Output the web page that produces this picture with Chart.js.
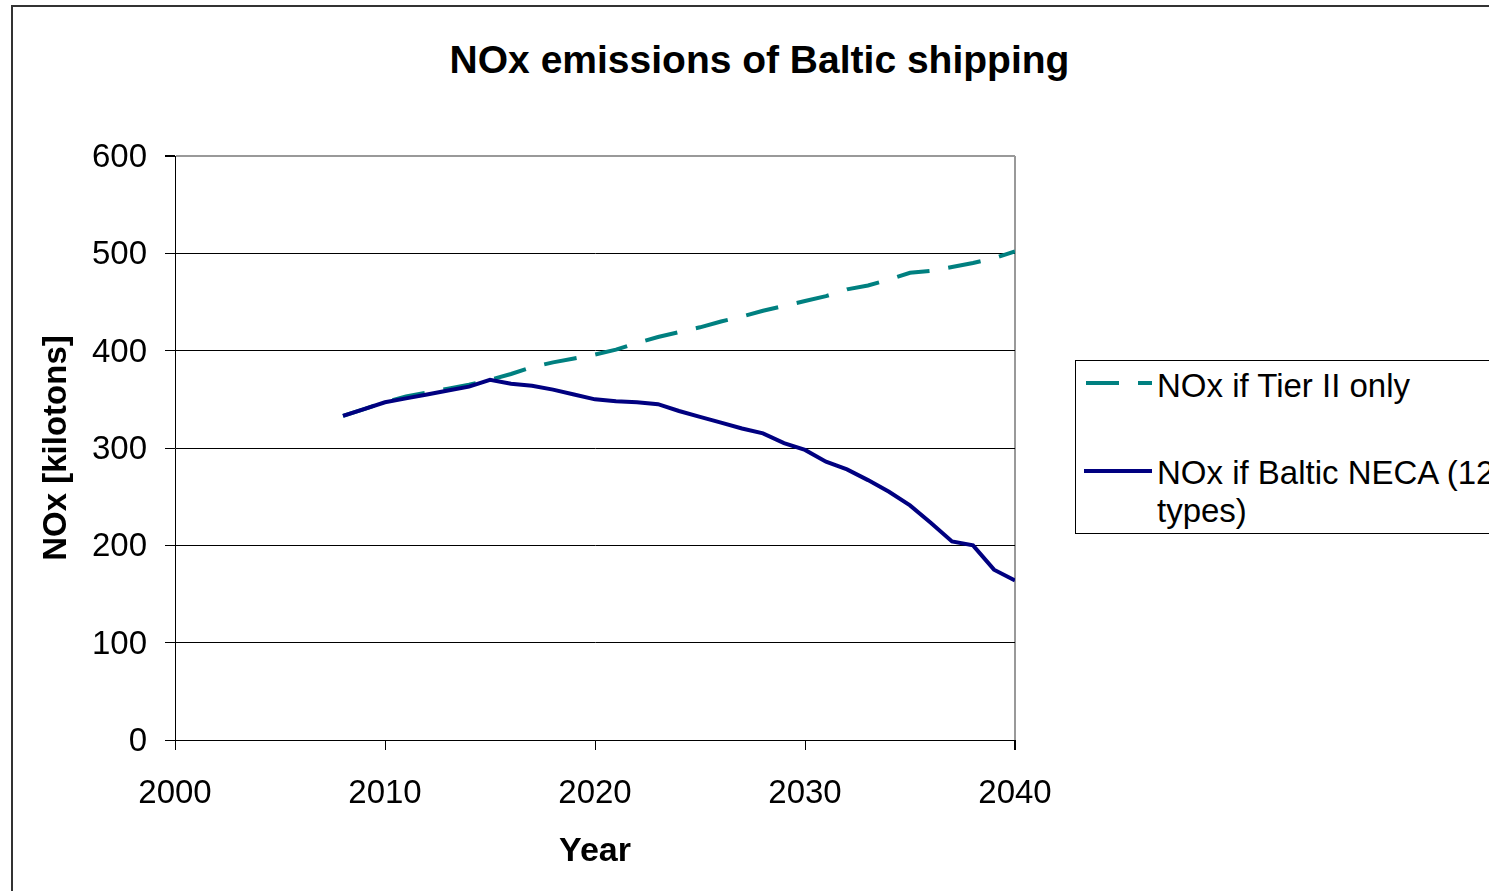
<!DOCTYPE html>
<html>
<head>
<meta charset="utf-8">
<script src="https://cdn.jsdelivr.net/npm/chart.js@4"></script>
<style>
  body { margin: 0; width: 1489px; height: 891px; overflow: hidden; background: #fff; font-family: "Liberation Sans", Arial, sans-serif; }
  #frame { position: absolute; left: 11px; top: 5px; width: 1600px; height: 1000px; border-left: 2px solid #333; border-top: 2px solid #333; }
  #title { position: absolute; left: 0; top: 40px; width: 1519px; text-align: center; font-weight: bold; font-size: 39px; line-height: 40px; color: #000; }
  #chart { position: absolute; left: 0; top: 0; }
  #legend { position: absolute; left: 1075px; top: 360px; width: 500px; height: 172px; border: 1px solid #000; background: #fff; }
  .lbl { position: absolute; left: 81px; font-size: 33px; line-height: 38px; color: #000; white-space: nowrap; }
  .sample { position: absolute; left: 8px; }
</style>
</head>
<body>
<div id="frame"></div>
<div id="title">NOx emissions of Baltic shipping</div>
<canvas id="chart" width="1489" height="891"></canvas>
<div id="legend">
  <svg class="sample" style="top:17px" width="68" height="10">
    <line x1="2" y1="5" x2="68" y2="5" stroke="#008080" stroke-width="4" stroke-dasharray="33,19"></line>
  </svg>
  <div class="lbl" style="top:6px">NOx if Tier II only</div>
  <svg class="sample" style="top:105px" width="68" height="10">
    <line x1="0" y1="5" x2="68" y2="5" stroke="#000080" stroke-width="4"></line>
  </svg>
  <div class="lbl" style="top:93px">NOx if Baltic NECA (12<br>types)</div>
</div>
<script>
var years = [2008, 2009, 2010, 2011, 2012, 2013, 2014, 2015, 2016, 2017, 2018, 2019, 2020,
  2021, 2022, 2023, 2024, 2025, 2026, 2027, 2028, 2029, 2030, 2031, 2032, 2033, 2034,
  2035, 2036, 2037, 2038, 2039, 2040];

var tierII = [333, 340, 347, 353, 357, 361, 365, 370, 376, 383, 388, 392, 396,
  401, 408, 414, 419, 424, 430, 435, 441, 446, 451, 456, 463, 467, 473,
  480, 482, 486, 490, 495, 502];

var neca = [333, 340, 347, 351, 355, 359, 363, 370, 366, 364, 360, 355, 350,
  348, 347, 345, 338, 332, 326, 320, 315, 305, 298, 286, 278, 267, 255,
  241, 223, 204, 200, 175, 164];

var xTicks = [2000, 2010, 2020, 2030, 2040];
var yTicks = [0, 100, 200, 300, 400, 500, 600];

function toPoints(values){
  return values.map(function(v, i){ return {x: years[i], y: v}; });
}

var tickFont = {family: "'Liberation Sans', Arial, sans-serif", size: 33};
var xTitleFont = {family: "'Liberation Sans', Arial, sans-serif", size: 34, weight: 'bold'};
var yTitleFont = {family: "'Liberation Sans', Arial, sans-serif", size: 33, weight: 'bold'};

var ctx = document.getElementById('chart').getContext('2d');
var myChart = new Chart(ctx, {
  type: 'line',
  data: {
    datasets: [
      {
        label: 'NOx if Tier II only',
        data: toPoints(tierII),
        borderColor: '#008080',
        borderWidth: 4,
        borderDash: [33, 19],
        pointRadius: 0,
        tension: 0,
        order: 1
      },
      {
        label: 'NOx if Baltic NECA (12 types)',
        data: toPoints(neca),
        borderColor: '#000080',
        borderWidth: 4,
        pointRadius: 0,
        tension: 0,
        order: 0
      }
    ]
  },
  options: {
    responsive: false,
    animation: false,
    layout: {padding: {left: 29, top: 156, right: 474, bottom: 0}},
    plugins: {
      legend: {display: false},
      tooltip: {enabled: false}
    },
    scales: {
      x: {
        type: 'linear',
        min: xTicks[0],
        max: xTicks[xTicks.length - 1],
        afterBuildTicks: function(scale){
          scale.ticks = xTicks.map(function(v){ return {value: v}; });
        },
        afterFit: function(scale){ scale.height = 151; },
        ticks: {
          font: tickFont,
          color: '#000',
          padding: 24,
          maxRotation: 0,
          callback: function(v){ return String(v); }
        },
        grid: {
          tickLength: 10,
          tickColor: '#000',
          color: function(c){ return c.tick && c.tick.value === 2040 ? '#999' : 'rgba(0,0,0,0)'; },
          lineWidth: function(c){ return c.tick && c.tick.value === 2040 ? 2 : 1; }
        },
        border: {color: '#000', width: 1},
        title: {
          display: true,
          text: 'Year',
          font: xTitleFont,
          color: '#000',
          padding: {top: 0, bottom: 19}
        }
      },
      y: {
        min: yTicks[0],
        max: yTicks[yTicks.length - 1],
        afterBuildTicks: function(scale){
          scale.ticks = yTicks.map(function(v){ return {value: v}; });
        },
        afterFit: function(scale){ scale.width = 146; },
        ticks: {
          font: tickFont,
          color: '#000',
          padding: 18,
          labelOffset: 2
        },
        grid: {
          tickLength: 10,
          tickColor: '#000',
          color: function(c){ return c.tick && c.tick.value === 600 ? '#999' : '#000'; },
          lineWidth: function(c){ return c.tick && c.tick.value === 600 ? 2 : 1; }
        },
        border: {color: '#000', width: 1},
        title: {
          display: true,
          text: 'NOx [kilotons]',
          font: yTitleFont,
          color: '#000',
          padding: {top: 8, bottom: 0}
        }
      }
    }
  }
});
</script>
</body>
</html>
